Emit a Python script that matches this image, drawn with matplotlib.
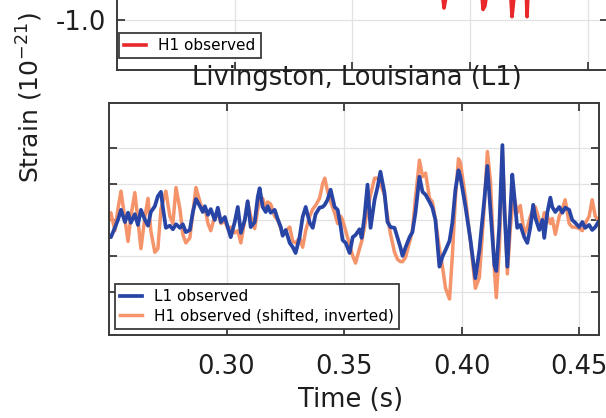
import matplotlib
matplotlib.use("Agg")
import matplotlib.pyplot as plt

plt.rcParams['font.family'] = ['DejaVu Sans']
plt.rcParams['axes.unicode_minus'] = False

# time axis (s), shared by both detectors
time = [
    0.2496, 0.2508, 0.2525, 0.2538, 0.2551, 0.2568, 0.2581, 0.2593, 0.2610, 0.2623,
    0.2636, 0.2653, 0.2666, 0.2678, 0.2695, 0.2708, 0.2721, 0.2729, 0.2742, 0.2759,
    0.2772, 0.2785, 0.2802, 0.2814, 0.2827, 0.2844, 0.2857, 0.2870, 0.2887, 0.2899,
    0.2908, 0.2921, 0.2933, 0.2950, 0.2963, 0.2976, 0.2993, 0.3006, 0.3018, 0.3035,
    0.3048, 0.3061, 0.3078, 0.3090, 0.3103, 0.3120, 0.3133, 0.3141, 0.3154, 0.3167,
    0.3175, 0.3188, 0.3205, 0.3218, 0.3231, 0.3239, 0.3252, 0.3269, 0.3282, 0.3294,
    0.3311, 0.3324, 0.3337, 0.3354, 0.3367, 0.3379, 0.3396, 0.3409, 0.3418, 0.3430,
    0.3443, 0.3460, 0.3473, 0.3486, 0.3494, 0.3507, 0.3524, 0.3537, 0.3549, 0.3566,
    0.3575, 0.3587, 0.3600, 0.3613, 0.3630, 0.3643, 0.3655, 0.3672, 0.3685, 0.3698,
    0.3715, 0.3728, 0.3740, 0.3749, 0.3762, 0.3779, 0.3791, 0.3804, 0.3821, 0.3834,
    0.3847, 0.3864, 0.3876, 0.3889, 0.3906, 0.3919, 0.3932, 0.3949, 0.3961, 0.3974,
    0.3987, 0.3995, 0.4017, 0.4038, 0.4059, 0.4076, 0.4097, 0.4110, 0.4123, 0.4140,
    0.4148, 0.4161, 0.4174, 0.4182, 0.4195, 0.4208, 0.4216, 0.4225, 0.4237, 0.4250,
    0.4267, 0.4280, 0.4293, 0.4305, 0.4314, 0.4331, 0.4344, 0.4352, 0.4365, 0.4378,
    0.4386, 0.4399, 0.4416, 0.4429, 0.4441, 0.4458, 0.4471, 0.4484, 0.4501, 0.4514,
    0.4526, 0.4543, 0.4556, 0.4569, 0.4582,
]

# L1 strain (1e-21)
l1_strain = [
    -0.21, -0.24, -0.11, 0.00, 0.14, -0.03, 0.10, -0.04, 0.08, -0.07,
    0.14, 0.00, -0.08, 0.11, 0.19, 0.33, 0.39, 0.18, -0.11, -0.08,
    -0.13, -0.06, -0.11, -0.06, -0.17, -0.14, 0.11, 0.29, 0.19, 0.11,
    0.19, 0.07, 0.15, 0.00, 0.17, -0.03, 0.04, -0.11, -0.24, -0.03,
    0.18, -0.18, 0.00, 0.26, -0.10, -0.03, 0.32, 0.44, 0.18, 0.11,
    0.19, 0.10, 0.14, 0.01, -0.10, -0.22, -0.14, -0.32, -0.38, -0.46,
    -0.24, 0.04, 0.18, -0.04, -0.11, 0.08, 0.17, 0.18, 0.21, 0.28,
    0.42, 0.18, 0.14, -0.10, -0.28, -0.32, -0.46, -0.24, -0.21, -0.13,
    -0.25, 0.04, 0.49, -0.11, 0.28, 0.46, 0.67, 0.38, -0.03, -0.10,
    -0.11, -0.25, -0.38, -0.50, -0.38, -0.24, -0.17, 0.10, 0.60, 0.39,
    0.35, 0.25, 0.17, 0.00, -0.65, -0.51, -0.42, -0.29, -0.04, 0.42,
    0.69, 0.60, 0.18, -0.28, -0.81, -0.42, 0.28, 0.75, 0.14, -0.63,
    -0.71, -0.07, 1.04, 0.18, -0.65, 0.14, 0.63, 0.32, -0.11, -0.07,
    -0.24, -0.32, -0.10, 0.21, 0.03, -0.14, 0.00, -0.25, 0.10, 0.31,
    0.18, 0.11, 0.18, 0.10, 0.17, 0.14, 0.00, -0.04, -0.10, -0.03,
    -0.11, -0.07, -0.14, -0.10, -0.03,
]

# H1 strain after shifting and inverting (as drawn over L1)
h1_shifted_inv = [
    -0.05, 0.10, -0.15, 0.15, 0.40, 0.00, -0.30, 0.05, 0.38, 0.00,
    -0.40, 0.05, 0.30, -0.15, -0.45, -0.40, 0.15, 0.25, 0.40, 0.05,
    -0.05, 0.45, 0.15, -0.20, -0.32, -0.25, 0.10, 0.45, 0.25, 0.12,
    0.18, -0.05, -0.15, 0.05, 0.10, -0.05, -0.02, -0.12, -0.10, -0.18,
    -0.15, -0.32, 0.00, 0.25, 0.05, -0.12, 0.15, 0.25, 0.30, 0.15,
    0.25, 0.22, 0.05, 0.00, -0.12, -0.20, -0.15, -0.10, -0.30, -0.32,
    -0.25, -0.38, -0.15, 0.05, 0.15, 0.20, 0.30, 0.50, 0.58, 0.40,
    0.25, 0.10, -0.05, 0.05, 0.00, -0.15, -0.35, -0.50, -0.60, -0.40,
    -0.30, -0.10, 0.15, 0.35, 0.58, 0.58, 0.50, 0.35, 0.05, -0.20,
    -0.45, -0.55, -0.58, -0.58, -0.52, -0.30, -0.15, 0.30, 0.83, 0.60,
    0.65, 0.30, 0.25, 0.00, -0.40, -0.65, -0.95, -1.10, -0.50, 0.30,
    0.85, 0.80, 0.30, -0.30, -0.95, -0.80, 0.20, 0.95, 0.55, -0.70,
    -1.08, -0.40, 0.95, 0.30, -0.75, -0.10, 0.15, 0.30, 0.10, 0.20,
    -0.20, -0.10, 0.05, 0.15, 0.18, 0.00, -0.05, 0.10, 0.05, -0.05,
    0.02, -0.20, 0.05, 0.15, 0.28, -0.05, -0.10, -0.10, -0.12, -0.15,
    -0.05, 0.05, 0.28, 0.05, 0.00,
]

h1_shift = 0.0069  # s, L1 leads H1
xticks = [0.30, 0.35, 0.40, 0.45]
yticks = [-1.0, -0.5, 0.0, 0.5, 1.0]

BLUE = '#2845a6'
ORANGE = '#f5936a'
RED = '#e8282a'
SPINE = '#3a3a3a'
TEXT = '#1e1e1e'

fig = plt.figure(figsize=(6.06, 4.18), dpi=100)

# upper (Hanford) panel, mostly cropped away
ax_top = fig.add_axes([117 / 606, 348 / 418, 490.5 / 606, 232 / 418])
# lower (Livingston) panel
ax = fig.add_axes([109 / 606, 83 / 418, 490 / 606, 232 / 418])


def style(a):
    a.set_xticks(xticks)
    a.set_yticks(yticks)
    a.grid(True, color='#e2e2e2', linewidth=0.9)
    a.set_axisbelow(True)
    for s in a.spines.values():
        s.set_color(SPINE)
        s.set_linewidth(1.4)
    a.tick_params(direction='in', length=6, width=1.3, color=SPINE,
                  top=True, right=True, labelsize=18.5, labelcolor=TEXT)


# top panel: H1 as observed
h1_time = [t + h1_shift for t in time]
h1_obs = [-v for v in h1_shifted_inv]
ax_top.plot(h1_time, h1_obs, color=RED, lw=2.6, label='H1 observed')
style(ax_top)
ax_top.set_xlim(0.25, 0.4585)
ax_top.set_ylim(-1.69, 1.53)
ax_top.tick_params(labelbottom=False, pad=8)
ax_top.yaxis.set_major_formatter(matplotlib.ticker.FormatStrFormatter('%.1f'))
leg = ax_top.legend(loc='lower left', bbox_to_anchor=(0.004, 0.05),
                    fontsize=11, frameon=True, fancybox=False,
                    edgecolor=SPINE, framealpha=1, handlelength=1.4,
                    borderaxespad=0.0, borderpad=0.35)
leg.get_frame().set_linewidth(1.3)

# bottom panel: L1 vs shifted / inverted H1
ax.plot(time, h1_shifted_inv, color=ORANGE, lw=2.5,
        label='H1 observed (shifted, inverted)')
ax.plot(time, l1_strain, color=BLUE, lw=2.7, label='L1 observed')
style(ax)
ax.set_xlim(0.25, 0.4585)
ax.set_ylim(-1.6, 1.625)
ax.tick_params(labelleft=False, pad=14)
ax.xaxis.set_major_formatter(matplotlib.ticker.FormatStrFormatter('%.2f'))
handles, labels = ax.get_legend_handles_labels()
leg2 = ax.legend(handles[::-1], labels[::-1], loc='lower left', fontsize=11,
                 frameon=True, fancybox=False, edgecolor=SPINE, framealpha=1,
                 handlelength=1.4, borderaxespad=0.4, borderpad=0.35,
                 labelspacing=0.3)
leg2.get_frame().set_linewidth(1.3)

fig.text(357 / 606, 1 - 78 / 418, 'Livingston, Louisiana (L1)',
         ha='center', va='center', fontsize=18.5, color=TEXT)
fig.text(351 / 606, 1 - 400 / 418, 'Time (s)',
         ha='center', va='center', fontsize=18.5, color=TEXT)
fig.text(30 / 606, 1 - 97 / 418, r'Strain ($10^{-21}$)', rotation=90,
         ha='center', va='center', fontsize=18, color=TEXT)

fig.savefig('out.png', dpi=100)
